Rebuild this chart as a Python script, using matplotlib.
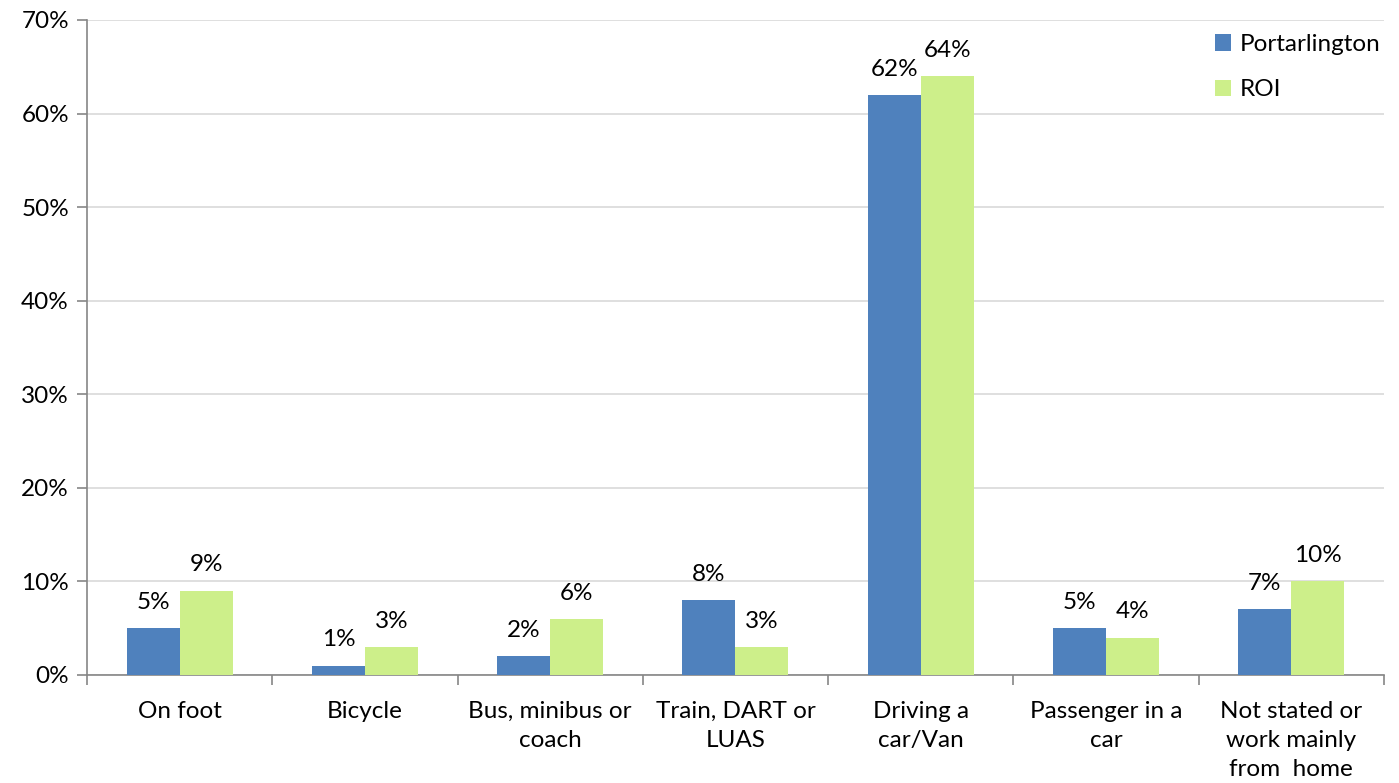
import numpy as np
import matplotlib.pyplot as plt
from matplotlib.ticker import FixedLocator, PercentFormatter

categories = ['On foot', 'Bicycle', 'Bus, minibus or\ncoach', 'Train, DART or\nLUAS',
              'Driving a\ncar/Van', 'Passenger in a\ncar', 'Not stated or\nwork mainly\nfrom  home']
portarlington = [5, 1, 2, 8, 62, 5, 7]
roi = [9, 3, 6, 3, 64, 4, 10]

plt.rcParams['font.family'] = ['Lato', 'DejaVu Sans']

fig = plt.figure(figsize=(13.99, 7.83), dpi=100)
ax = fig.add_axes([0.0622, 0.138, 0.927, 0.8365])

x = np.arange(len(categories))
w = 0.286
b1 = ax.bar(x - w / 2, portarlington, w, color='#4f81bd', label='Portarlington', zorder=3)
b2 = ax.bar(x + w / 2, roi, w, color='#cdef8a', label='ROI', zorder=3)
ax.bar_label(b1, labels=[f'{v}%' for v in portarlington], padding=11, fontsize=17.5)
ax.bar_label(b2, labels=[f'{v}%' for v in roi], padding=11, fontsize=17.5)

ax.set_ylim(0, 70)
ax.set_xlim(-0.5, len(categories) - 0.5)
ax.set_yticks(range(0, 71, 10))
ax.yaxis.set_major_formatter(PercentFormatter(decimals=0))
ax.grid(axis='y', color='#d9d9d9', linewidth=1.2, zorder=0)

ax.set_xticks(x)
ax.set_xticklabels(categories, linespacing=1.45)
ax.xaxis.set_minor_locator(FixedLocator(np.arange(-0.5, len(categories), 1)))
ax.tick_params(axis='x', which='major', length=0, pad=19, labelsize=17.5)
ax.tick_params(axis='x', which='minor', length=7, color='#868686', width=1.2)
ax.tick_params(axis='y', length=7, color='#868686', width=1.2, labelsize=17.5, pad=6)

for s in ['top', 'right']:
    ax.spines[s].set_visible(False)
for s in ['left', 'bottom']:
    ax.spines[s].set_color('#868686')
    ax.spines[s].set_linewidth(1.2)

ax.legend(loc='upper right', bbox_to_anchor=(1.014, 1.012), frameon=False, fontsize=17.5,
          handlelength=0.65, handleheight=0.65, handletextpad=0.35, labelspacing=1.0)

fig.savefig('out.png')
